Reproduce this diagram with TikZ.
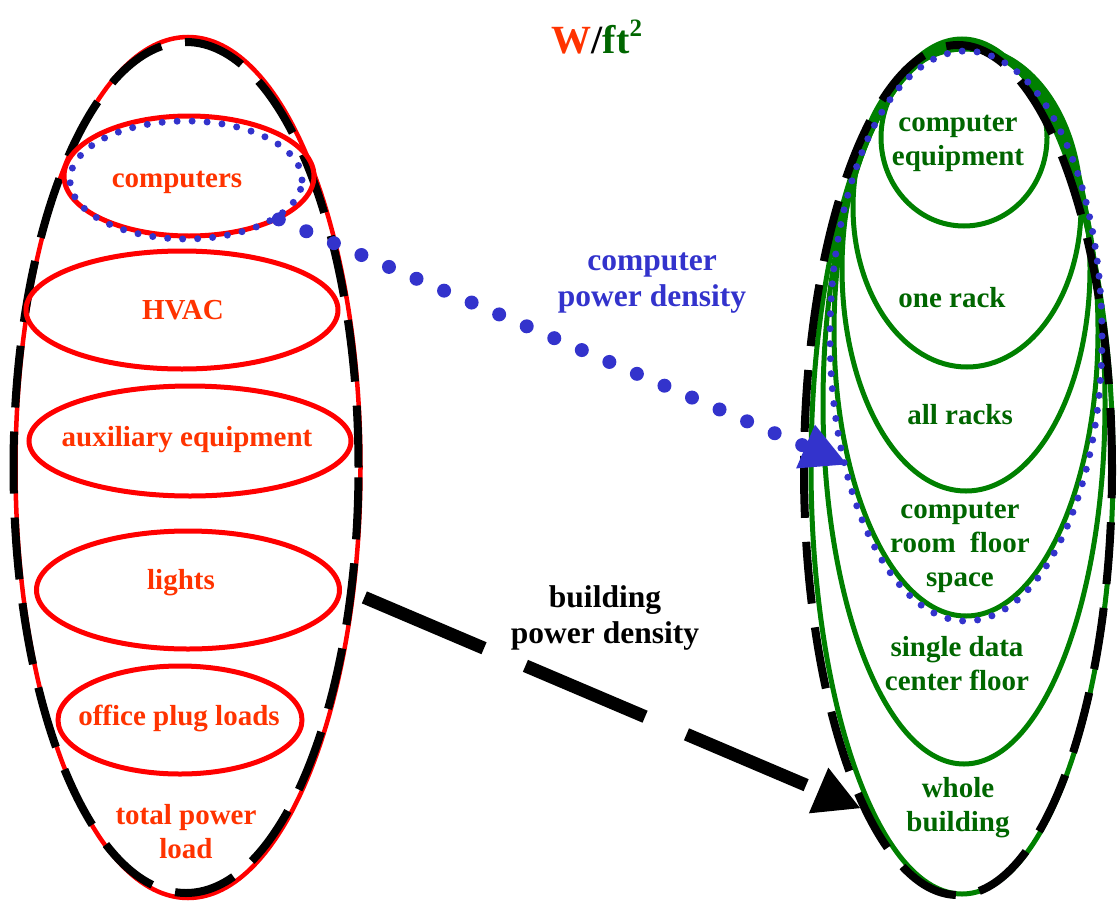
\documentclass[tikz,border=0pt]{standalone}
\usepackage{fontspec}
\setmainfont{Liberation Serif}
\usetikzlibrary{shapes.geometric,arrows.meta}
\definecolor{loadred}{RGB}{255,0,0}
\definecolor{labelred}{RGB}{255,51,0}
\definecolor{boxgreen}{RGB}{0,128,0}
\definecolor{labelgreen}{RGB}{0,102,0}
\definecolor{densblue}{RGB}{51,51,204}
\tikzset{
  oval/.style      = {ellipse, inner sep=0pt, line width=5pt},
  redoval/.style   = {oval, draw=loadred},
  greenoval/.style = {oval, draw=boxgreen},
  dashoval/.style  = {ellipse, inner sep=0pt, draw=black, line width=8pt,
                      dash pattern=on 62pt off 24pt},
  dotoval/.style   = {ellipse, inner sep=0pt, draw=densblue, line width=7pt,
                      line cap=round, dash pattern=on 0pt off 15pt},
  label/.style     = {font=\fontsize{29}{34}\selectfont\bfseries, align=center},
  redtext/.style   = {label, text=labelred},
  greentext/.style = {label, text=labelgreen},
  arrowtext/.style = {font=\fontsize{31.5}{36}\selectfont\bfseries, align=center}
}
\begin{document}
\begin{tikzpicture}[x=1pt, y=-1pt, >=Triangle]
\useasboundingbox (0,0) rectangle (1119,902);

% left side, total power load and its parts
\node[redoval, line width=4.5pt, minimum width=345pt, minimum height=861pt] (ltot) at (188,467.5) {};
\node[dashoval, minimum width=345pt, minimum height=851pt] (ldash) at (186,467.5) {};
\node[redoval, minimum width=250pt, minimum height=120pt] (comp) at (189,176) {};
\node[dotoval, minimum width=232pt, minimum height=118pt] (cdots) at (186,180) {};
\node[redoval, minimum width=312pt, minimum height=118pt] (hvac) at (182,310) {};
\node[redoval, minimum width=322pt, minimum height=110pt] (aux) at (190,441) {};
\node[redoval, minimum width=303pt, minimum height=118pt] (lights) at (188,590) {};
\node[redoval, minimum width=244pt, minimum height=108pt] (plug) at (180,720) {};

% right side, nested areas
\foreach \n/\cx/\cy/\w/\h in {whole/962/466.5/302pt/855pt, single/964/403.5/282pt/721pt,
    room/966/330.5/264pt/571pt, allr/966/268.5/248pt/445pt,
    rack/967/207/228pt/320pt, eqp/964/137.5/166pt/177pt}
  \node[greenoval, minimum width=\w, minimum height=\h] (\n) at (\cx,\cy) {};
\node[dashoval, minimum width=308pt, minimum height=850pt] (rdash) at (958,470) {};
\node[dotoval, minimum width=272pt, minimum height=570pt] (rdots) at (966,336) {};

% labels
\node[font=\fontsize{40}{44}\selectfont\bfseries] (unit) at (597,37)
  {\textcolor{labelred}{W}/\textcolor{labelgreen}{ft\raisebox{0.42em}{\fontsize{25}{25}\selectfont 2}}};
\node[redtext] (tcomp) at (177,182) {computers};
\node[redtext] (thvac) at (183,310) {HVAC};
\node[redtext] (taux) at (187,440) {auxiliary equipment};
\node[redtext] (tlights) at (181,583) {lights};
\node[redtext] (tplug) at (179,718) {office plug loads};
\node[redtext] (ttot) at (186,832) {total power\\load};
\node[greentext] (teqp) at (958,143) {computer\\equipment};
\node[greentext] (track) at (952,298) {one rack};
\node[greentext] (tallr) at (960,415) {all racks};
\node[greentext] (troom) at (960,547) {computer\\room\ \ floor\\space};
\node[greentext] (tsingle) at (957,664) {single data\\center floor};
\node[greentext] (twhole) at (958,808) {whole\\building};
\node[arrowtext, text=densblue] (cpd) at (652,283) {computer\\power density};
\node[arrowtext] (bpd) at (605,618) {building\\power density};

% density arrows
\draw[densblue, line width=14pt, line cap=round, dash pattern=on 0pt off 30pt,
  -{Triangle[length=46pt, width=44pt]}, shorten >=-8pt] (cdots.-23) -- (rdots.225);
\draw[black, line width=13pt, dash pattern=on 130pt off 45pt,
  -{Triangle[length=46pt, width=46pt]}, shorten <=10pt] (ltot.-37) -- (rdash.254);
\end{tikzpicture}
\end{document}
